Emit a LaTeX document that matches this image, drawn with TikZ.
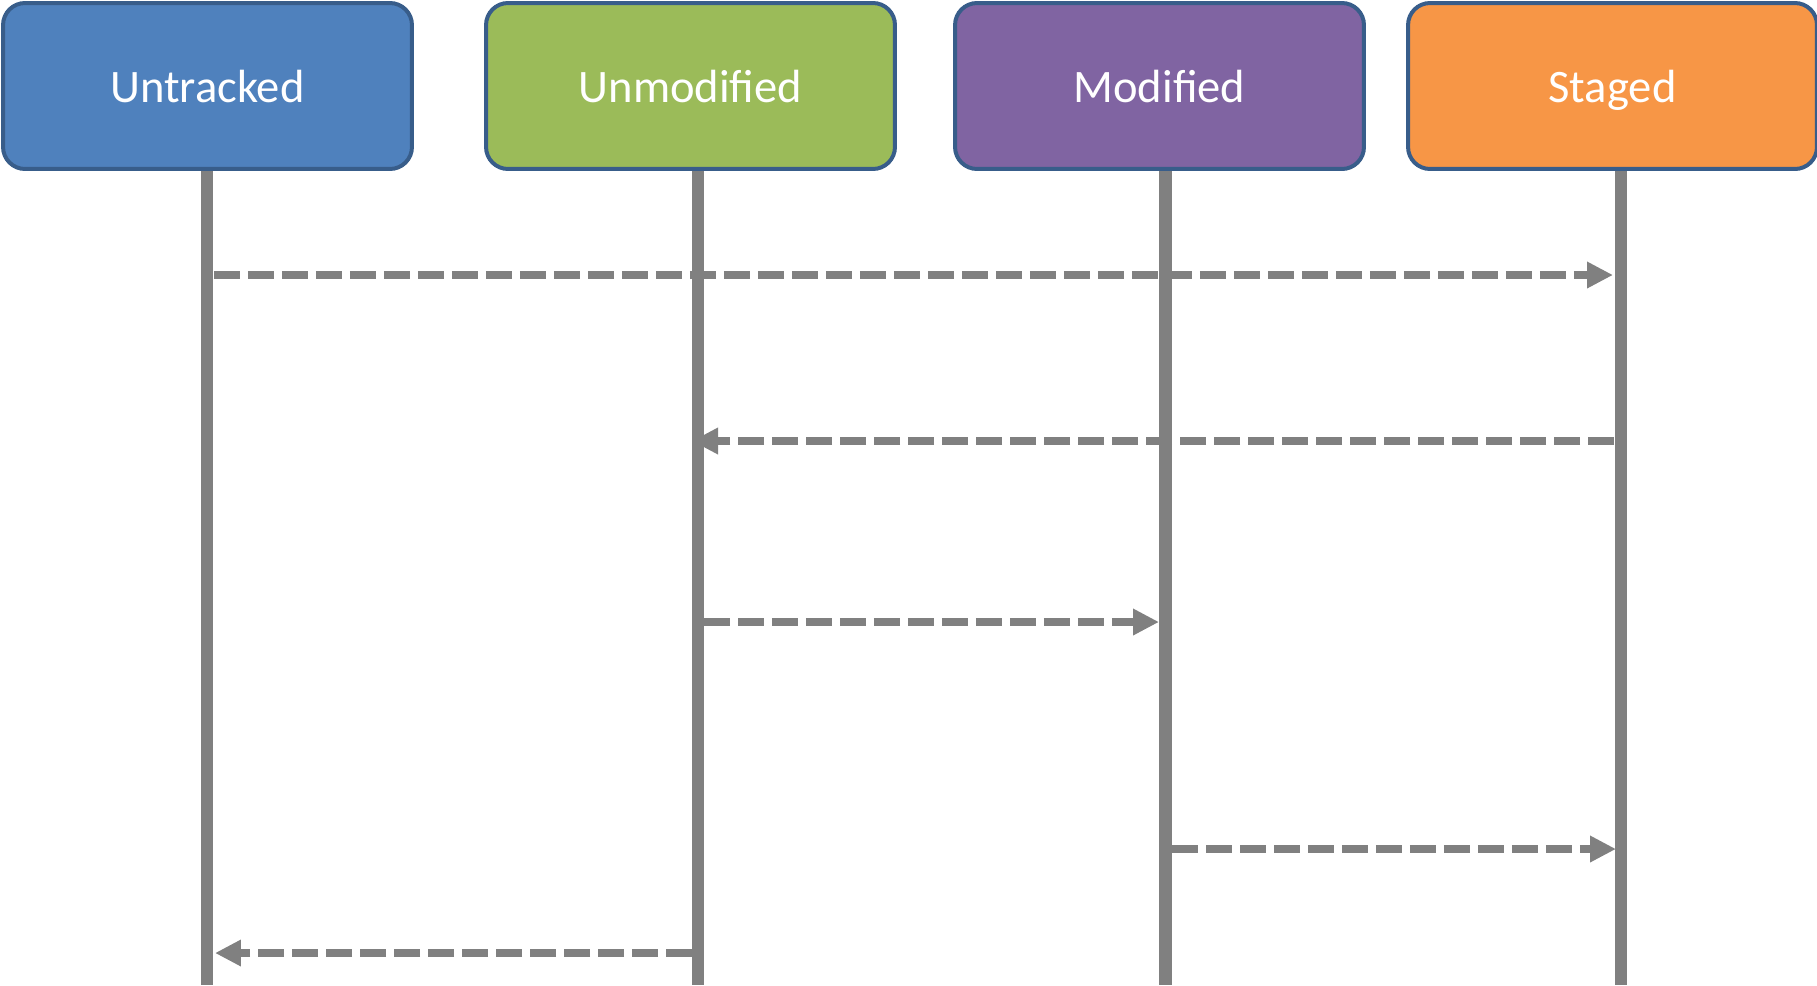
\documentclass[tikz,border=0pt]{standalone}
\usepackage{fontspec}
\setmainfont{Carlito}
\usetikzlibrary{arrows.meta,positioning}
\definecolor{trackblue}{RGB}{79,129,189}
\definecolor{cleangreen}{RGB}{155,187,89}
\definecolor{dirtypurple}{RGB}{128,100,162}
\definecolor{stageorange}{RGB}{247,150,70}
\definecolor{rimblue}{RGB}{56,93,138}
\definecolor{wire}{RGB}{128,128,128}
\tikzset{
  state/.style    = {draw=rimblue, line width=0.08cm, rounded corners=0.44cm,
                     minimum width=8.18cm, minimum height=3.32cm, text=white,
                     font=\fontsize{26.5}{30}\selectfont, text height=0.84cm, text depth=0.2cm},
  lifeline/.style = {draw=wire, line width=0.25cm},
  msg/.style      = {draw=wire, line width=0.16cm, dash pattern=on 0.52cm off 0.16cm,
                     -{Triangle[length=0.52cm,width=0.5cm]}}
}

\begin{document}
\begin{tikzpicture}[x=0.02cm, y=-0.02cm]
    \useasboundingbox (0,0) rectangle (1817,985);
    % states
    \node[state, fill=trackblue]   (untracked)  at (207.5,86)  {Untracked};
    \node[state, fill=cleangreen]  (unmodified) at (690.5,86)  {Unmodified};
    \node[state, fill=dirtypurple] (modified)   at (1159.5,86) {Modified};
    \node[state, fill=stageorange] (staged)     at (1612.5,86) {Staged};
    % lifelines
    \foreach \s/\x in {untracked/207, unmodified/698, modified/1165.5, staged/1621} {
      \coordinate (\s-bot) at (\x,985);
      \draw[lifeline] (\s-bot |- \s.south) -- (\s-bot);
    }
    % message levels
    \coordinate (m1) at (0,275);
    \coordinate (m2) at (0,441);
    \coordinate (m3) at (0,622);
    \coordinate (m4) at (0,849);
    \coordinate (m5) at (0,953);
    % transitions
    \draw[msg] ([xshift=0.14cm]untracked-bot |- m1) -- ([xshift=-0.16cm]staged-bot |- m1);
    \draw[msg] ([xshift=-0.14cm]staged-bot |- m2) -- ([xshift=-0.12cm]unmodified-bot |- m2);
    \draw[msg] ([xshift=0.12cm]unmodified-bot |- m3) -- ([xshift=-0.13cm]modified-bot |- m3);
    \draw[msg] ([xshift=0.13cm]modified-bot |- m4) -- ([xshift=-0.1cm]staged-bot |- m4);
    \draw[msg] ([xshift=-0.12cm]unmodified-bot |- m5) -- ([xshift=0.16cm]untracked-bot |- m5);
\end{tikzpicture}
\end{document}
